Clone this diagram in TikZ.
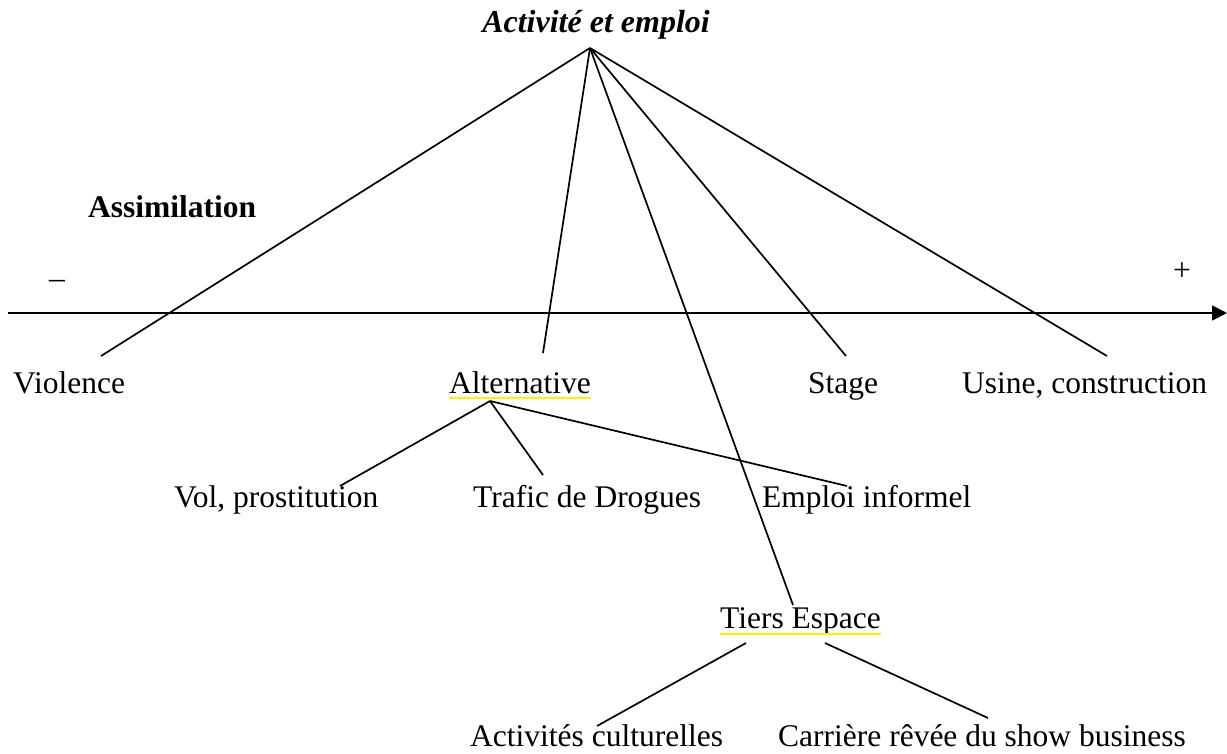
\documentclass[tikz,border=0pt]{standalone}
\usepackage{fontspec}
\setmainfont{Liberation Serif}
\usetikzlibrary{arrows.meta}
\begin{document}
\begin{tikzpicture}[x=1pt,y=-1pt,
  lbl/.style={inner sep=0pt,font=\fontsize{31.5}{36}\selectfont},
  conn/.style={line width=1.7pt},
  hl/.style={yellow,line width=2pt}]
\useasboundingbox (0,0) rectangle (1227,753);
% title and apex
\node[lbl,anchor=base,font=\fontsize{32}{36}\selectfont\bfseries\itshape] (title) at (596,32) {Activité et emploi};
\coordinate (apex) at (590,48);
% axis
\node[lbl,anchor=base west,font=\fontsize{31.5}{36}\selectfont\bfseries] (assim) at (88,217) {Assimilation};
\node[lbl] (minus) at (57,284) {–};
\node[lbl] (plus) at (1182,272) {+};
\coordinate (axL) at (8,313);
\coordinate (axR) at (1227,313);
\draw[conn,-{Triangle[length=15pt,width=15pt]}] (axL) -- (axR);
% first level labels
\node[lbl,anchor=base west] (viol) at (13,393) {Violence};
\node[lbl,anchor=base] (alt) at (520,393) {Alternative};
\node[lbl,anchor=base] (stage) at (843,393) {Stage};
\node[lbl,anchor=base west] (usine) at (962,393) {Usine, construction};
\node[lbl,anchor=base west] (tiers) at (720,628) {Tiers Espace};
\draw[hl] (alt.base west) ++(0,5) coordinate (altU1) -- (alt.base east |- altU1);
\draw[hl] (tiers.base west) ++(0,6) coordinate (tiersU1) -- (tiers.base east |- tiersU1);
% first level line ends
\coordinate (eViol) at (101,356);
\coordinate (eAlt) at (543,353);
\coordinate (eStage) at (846,356);
\coordinate (eUsine) at (1107,356);
\coordinate (eTiers) at (793,605);
\draw[conn] (apex) -- (eViol);
\draw[conn] (apex) -- (eAlt);
\draw[conn] (apex) -- (eTiers);
\draw[conn] (apex) -- (eStage);
\draw[conn] (apex) -- (eUsine);
% alternative subtree
\node[lbl,anchor=base west] (vol) at (174,507) {Vol, prostitution};
\node[lbl,anchor=base west] (traf) at (473,507) {Trafic de Drogues};
\node[lbl,anchor=base west] (empl) at (762,507) {Emploi informel};
\coordinate (altTop) at (490,401);
\coordinate (eVol) at (340,486);
\coordinate (eTraf) at (543,475);
\coordinate (eEmpl) at (847,486);
\draw[conn] (altTop) -- (eVol);
\draw[conn] (altTop) -- (eTraf);
\draw[conn] (altTop) -- (eEmpl);
% tiers espace subtree
\node[lbl,anchor=base west] (cult) at (470,746) {Activités culturelles};
\node[lbl,anchor=base west] (carr) at (778,746) {Carrière rêvée du show business};
\coordinate (tL) at (746,643);
\coordinate (tR) at (825,643);
\coordinate (eCult) at (597,726);
\coordinate (eCarr) at (988,718);
\draw[conn] (tL) -- (eCult);
\draw[conn] (tR) -- (eCarr);
\end{tikzpicture}
\end{document}
